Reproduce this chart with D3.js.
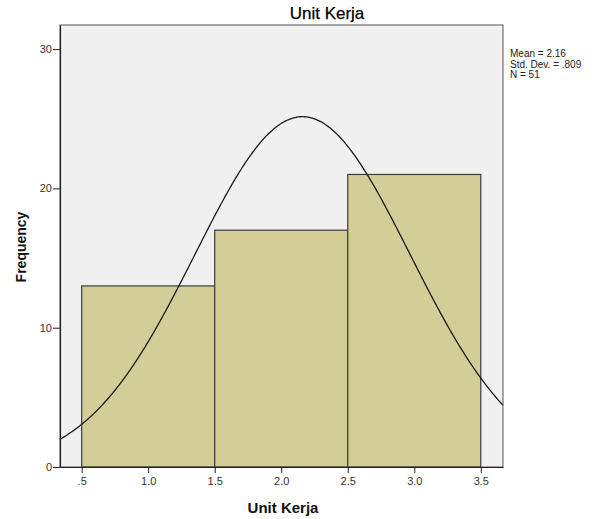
<!DOCTYPE html>
<html><head><meta charset="utf-8">
<script src="https://cdn.jsdelivr.net/npm/d3@7"></script>
<style>
body{margin:0;background:#fff;}
text{font-family:"Liberation Sans",Arial,sans-serif;}
</style></head>
<body><svg id="c" width="596" height="519"></svg>
<script>
const binStarts = [0.5, 1.5, 2.5];
const binEnds = [1.5, 2.5, 3.5];
const frequencies = [13, 17, 21];
const xTicks = [0.5, 1.0, 1.5, 2.0, 2.5, 3.0, 3.5];
const xTickLabels = [".5", "1.0", "1.5", "2.0", "2.5", "3.0", "3.5"];
const yTicks = [0, 10, 20, 30];
const statLabels = ["Mean = 2.16", "Std. Dev. = .809", "N = 51"];
const meanVal = 2.16, sdVal = 0.809, nVal = 51;

const svg = d3.select("#c");
const L = 60, R = 503, T = 25, B = 467;
const x = d3.scaleLinear().domain([0.337, 3.667]).range([L, R]);
const y = d3.scaleLinear().domain([0, (B - T) / 13.93]).range([B, T]);

svg.append("rect").attr("x", L).attr("y", T).attr("width", R - L).attr("height", B - T)
  .attr("fill", "#f0f0f0").attr("stroke", "none");

const g = svg.append("g");
g.selectAll("rect.bar").data(frequencies).enter().append("rect").attr("class", "bar")
  .attr("x", (d, i) => x(binStarts[i]))
  .attr("y", d => y(d))
  .attr("width", (d, i) => x(binEnds[i]) - x(binStarts[i]))
  .attr("height", d => y(0) - y(d))
  .attr("fill", "#d3ce97").attr("stroke", "#3c3c3c").attr("stroke-width", 1.2);

// normal curve overlay from displayed statistics
const binW = binEnds[0] - binStarts[0];
const xs = d3.range(0, 401).map(i => x.domain()[0] + (x.domain()[1] - x.domain()[0]) * i / 400);
const curve = xs.map(v => [v, nVal * binW * Math.exp(-0.5 * Math.pow((v - meanVal) / sdVal, 2)) / (sdVal * Math.sqrt(2 * Math.PI))]);
svg.append("path").datum(curve)
  .attr("d", d3.line().x(d => x(d[0])).y(d => y(d[1])).curve(d3.curveBasis))
  .attr("fill", "none").attr("stroke", "#1a1a1a").attr("stroke-width", 1.3);

// frame
svg.append("rect").attr("x", L).attr("y", T).attr("width", R - L).attr("height", B - T)
  .attr("fill", "none").attr("stroke", "#555").attr("stroke-width", 1);

// axes
const xa = svg.append("g").attr("transform", `translate(0,${B})`)
  .call(d3.axisBottom(x).tickValues(xTicks).tickFormat((d, i) => xTickLabels[i]).tickSize(6).tickSizeOuter(0));
const ya = svg.append("g").attr("transform", `translate(${L},0)`)
  .call(d3.axisLeft(y).tickValues(yTicks).tickFormat(d3.format("d")).tickSize(7).tickSizeOuter(0));
[xa, ya].forEach(a => {
  a.select(".domain").attr("stroke", "#222").attr("stroke-width", 1.2);
  a.selectAll(".tick line").attr("stroke", "#222");
  a.selectAll(".tick text").attr("fill", "#333").style("font-size", "11px")
    .style("font-family", '"Liberation Sans",Arial,sans-serif');
});
xa.selectAll(".tick text").attr("dy", "0.71em").attr("y", 10);
ya.selectAll(".tick text").attr("x", -8);

svg.append("text").attr("x", 327).attr("y", 19).attr("text-anchor", "middle")
  .style("font-size", "17px").attr("fill", "#000").attr("stroke", "#000").attr("stroke-width", 0.25).text("Unit Kerja");
svg.append("text").attr("x", 283).attr("y", 513).attr("text-anchor", "middle")
  .style("font-size", "15px").style("font-weight", "bold").attr("fill", "#111").text("Unit Kerja");
svg.append("text").attr("transform", "translate(26,247) rotate(-90)").attr("text-anchor", "middle")
  .style("font-size", "14px").style("font-weight", "bold").attr("fill", "#111").text("Frequency");

svg.append("g").selectAll("text").data(statLabels).enter().append("text")
  .attr("x", 510).attr("y", (d, i) => 57 + i * 10.5)
  .style("font-size", "10px").attr("fill", "#222").text(d => d);
</script></body></html>
